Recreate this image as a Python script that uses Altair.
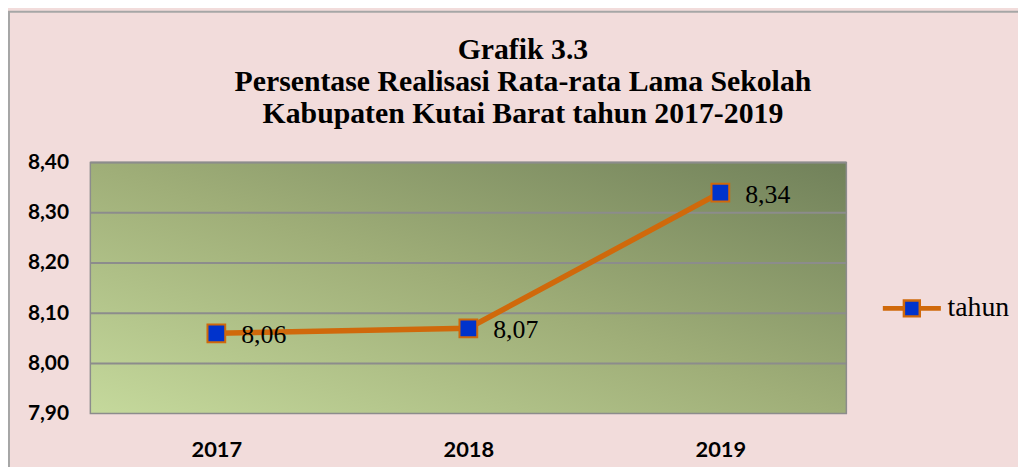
import altair as alt
import pandas as pd

# ---- data ----
years = ["2017", "2018", "2019"]
values = [8.06, 8.07, 8.34]
series_name = ["tahun", "tahun", "tahun"]
grid_values = [8.0, 8.1, 8.2, 8.3, 8.4]
y_ticks = [7.9, 8.0, 8.1, 8.2, 8.3, 8.4]
title_lines = [
    "Grafik 3.3",
    "Persentase Realisasi Rata-rata Lama Sekolah",
    "Kabupaten Kutai Barat tahun 2017-2019",
]

df = pd.DataFrame({"tahun": years, "nilai": values, "seri": series_name})
grid_df = pd.DataFrame({"nilai": grid_values})
one_df = pd.DataFrame({"a": [0]})

W, H = 762, 253
ORANGE = "#D0690B"
BLUE = "#0033CC"
GRID = "#8C8C8C"

y_scale = alt.Scale(domain=[7.9, 8.4], nice=False, zero=False)
y_axis = alt.Axis(
    values=y_ticks,
    labelExpr="replace(format(datum.value, '.2f'), '.', ',')",
    grid=False, domain=False, ticks=False,
    labelFont="Lato", labelFontWeight="bold", labelFontSize=21,
    labelColor="black", labelPadding=22,
)
x_scale = alt.Scale(type="point", domain=years, padding=0.5)
x_axis = alt.Axis(
    grid=False, domain=False, ticks=False, labelAngle=0,
    labelFont="Lato", labelFontWeight="bold", labelFontSize=22,
    labelColor="black", labelPadding=26,
)

X = alt.X("tahun:N", scale=x_scale, axis=x_axis, title=None)
Y = alt.Y("nilai:Q", scale=y_scale, axis=y_axis, title=None)

gradient = {
    "gradient": "linear",
    "x1": 0, "y1": 1, "x2": 1, "y2": 0,
    "stops": [
        {"offset": 0, "color": "#C5D99C"},
        {"offset": 0.5, "color": "#9FAE78"},
        {"offset": 1, "color": "#71815A"},
    ],
}

border = alt.Chart(one_df).mark_rect(
    fillOpacity=0, stroke="#A6A6A6", strokeWidth=2
).encode(x=alt.value(-82), x2=alt.value(2000), y=alt.value(-152), y2=alt.value(2000))

plot_bg = alt.Chart(one_df).mark_rect(
    fill=gradient, stroke=GRID, strokeWidth=1.5
).encode(x=alt.value(0), x2=alt.value(W), y=alt.value(0), y2=alt.value(H))

grid = alt.Chart(grid_df).mark_rule(color=GRID, strokeWidth=2).encode(y=Y)

line = alt.Chart(df).mark_line(color=ORANGE, strokeWidth=5.5).encode(x=X, y=Y)

legend_symbol = "M-3.5,-0.15H-1V0.15H-3.5Z M1,-0.15H3.5V0.15H1Z M-1,-1H1V1H-1Z"

points = alt.Chart(df).mark_point(
    shape="square", filled=True, size=320, stroke=ORANGE, strokeWidth=2, opacity=1
).encode(
    x=X, y=Y,
    fill=alt.Fill(
        "seri:N",
        scale=alt.Scale(range=[BLUE]),
        legend=alt.Legend(
            title=None, orient="none", legendX=814, legendY=133,
            symbolType=legend_symbol, symbolSize=256,
            symbolStrokeColor=ORANGE, symbolStrokeWidth=2.5, symbolOpacity=1,
            labelFont="Liberation Serif", labelFontSize=28, labelColor="black",
            labelOffset=22, padding=0,
        ),
    ),
)

labels = alt.Chart(df).transform_calculate(
    label="replace(format(datum.nilai, '.2f'), '.', ',')"
).mark_text(
    align="left", baseline="alphabetic", dx=25, dy=10,
    font="Liberation Serif", fontSize=26, color="black",
).encode(x=X, y=Y, text="label:N")

chart = alt.layer(border, plot_bg, grid, line, points, labels).properties(
    width=W, height=H,
    autosize=alt.AutoSizeParams(type="none"),
    padding={"left": 83, "top": 154, "right": 173, "bottom": 52},
    background="#F2DCDB",
    title=alt.TitleParams(
        text=title_lines, font="Liberation Serif", fontSize=30, fontWeight="bold",
        color="black", anchor="middle", dx=55, offset=-149, lineHeight=32,
        baseline="bottom",
    ),
).configure_view(stroke=None)

chart.save("out.html", embed_options={"renderer": "svg", "actions": False})
